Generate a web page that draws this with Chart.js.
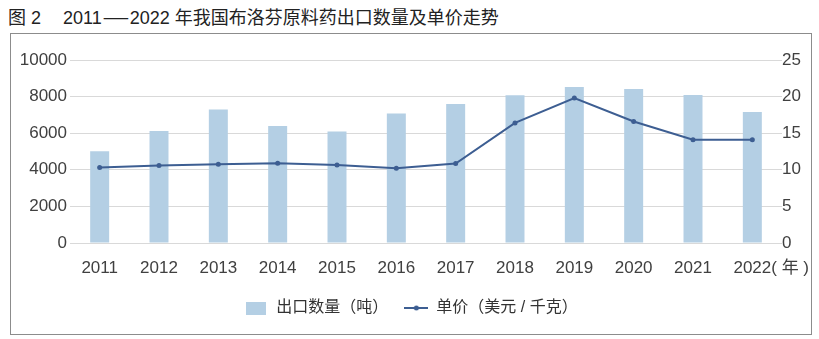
<!DOCTYPE html>
<html>
<head>
<meta charset="utf-8">
<script src="https://cdn.jsdelivr.net/npm/chart.js@4.4.1/dist/chart.umd.min.js"></script>
<style>
  body { margin: 0; background: #fff; width: 819px; height: 339px; position: relative; overflow: hidden;
         font-family: "Liberation Sans", "Noto Sans CJK SC", sans-serif; }
  #title { position: absolute; left: 8px; top: 3px; font-size: 18px; color: #222; white-space: pre; }
  #title .dash { display: inline-block; font-family: "Noto Sans CJK SC"; transform: scaleX(1.7); margin: 0 6px; }
  #box { position: absolute; left: 10px; top: 33px; width: 800px; height: 300px; border: 1px solid #8c8c8c; }
</style>
</head>
<body>
<div id="title">图 2<span style="margin-left:22px">2011</span><span class="dash">—</span>2022 年我国布洛芬原料药出口数量及单价走势</div>
<div id="box"><canvas id="trendChart"></canvas></div>
<script>
var years = ["2011", "2012", "2013", "2014", "2015", "2016", "2017", "2018", "2019", "2020", "2021", "2022"];
var exportQty = [5020, 6120, 7300, 6390, 6090, 7070, 7600, 8070, 8520, 8420, 8090, 7160]; // 吨
var unitPrice = [10.3, 10.6, 10.75, 10.9, 10.65, 10.2, 10.85, 16.4, 19.8, 16.6, 14.1, 14.1]; // 美元/千克

var barColor = "#b4cfe4";
var lineColor = "#3d5e92";
var textColor = "#404040";
var fontStack = "'Liberation Sans', 'Noto Sans CJK SC', sans-serif";

Chart.defaults.font.family = fontStack;
Chart.defaults.color = textColor;

// little pictures for the legend
function legendBox() {
  var c = document.createElement("canvas");
  c.width = 20; c.height = 13;
  var g = c.getContext("2d");
  g.fillStyle = barColor;
  g.fillRect(0, 0, 20, 13);
  return c;
}
function legendLine() {
  var c = document.createElement("canvas");
  c.width = 24; c.height = 8;
  var g = c.getContext("2d");
  g.strokeStyle = lineColor;
  g.lineWidth = 2;
  g.beginPath(); g.moveTo(0, 4); g.lineTo(24, 4); g.stroke();
  g.fillStyle = lineColor;
  g.beginPath(); g.arc(12, 4, 2.5, 0, Math.PI * 2); g.fill();
  return c;
}

// "(年)" after the last year label
var yearUnit = {
  id: "yearUnit",
  afterDraw: function (chart) {
    var xs = chart.scales.x;
    var items = xs.getLabelItems();
    var last = items[items.length - 1];
    var ctx = chart.ctx;
    ctx.save();
    ctx.font = "17px " + fontStack;
    ctx.fillStyle = textColor;
    ctx.textBaseline = last.options.textBaseline || "middle";
    var x = last.options.translation[0] + ctx.measureText(years[years.length - 1]).width / 2;
    var y = last.options.translation[1] + (last.textOffset || 0);
    ctx.fillText("( 年 )", x, y);
    ctx.restore();
  }
};

var ctx = document.getElementById("trendChart").getContext("2d");
var trendChart = new Chart(ctx, {
  type: "bar",
  data: {
    labels: years,
    datasets: [
      {
        label: "出口数量（吨）",
        data: exportQty,
        backgroundColor: barColor,
        barPercentage: 0.32,
        categoryPercentage: 1.0,
        yAxisID: "y",
        order: 1,
      },
      {
        type: "line",
        label: "单价（美元 / 千克）",
        data: unitPrice,
        borderColor: lineColor,
        backgroundColor: lineColor,
        borderWidth: 2,
        pointRadius: 2.5,
        pointBackgroundColor: lineColor,
        pointBorderWidth: 0,
        tension: 0,
        yAxisID: "y1",
        order: 0,
      },
    ],
  },
  options: {
    responsive: true,
    maintainAspectRatio: false,
    animation: false,
    layout: {
      padding: { top: 26, left: 0, right: 0, bottom: 8 },
    },
    plugins: {
      tooltip: { enabled: false },
      legend: {
        display: true,
        position: "bottom",
        labels: {
          usePointStyle: true,
          pointStyleWidth: 24,
          padding: 16,
          color: "#333",
          font: { size: 16, family: fontStack },
          generateLabels: function (chart) {
            var ds = chart.data.datasets;
            return [
              { text: ds[0].label, pointStyle: legendBox(), fillStyle: barColor, strokeStyle: barColor, lineWidth: 0, datasetIndex: 0, fontColor: "#333" },
              { text: ds[1].label, pointStyle: legendLine(), fillStyle: lineColor, strokeStyle: lineColor, lineWidth: 0, datasetIndex: 1, fontColor: "#333" },
            ];
          },
        },
      },
    },
    scales: {
      x: {
        grid: { display: false },
        border: { display: false },
        ticks: { font: { size: 17 }, color: textColor, padding: 7, maxRotation: 0 },
        afterFit: function (scale) { scale.height = 41; },
      },
      y: {
        position: "left",
        min: 0,
        max: 10000,
        ticks: {
          stepSize: 2000, font: { size: 17 }, color: textColor, padding: 3,
          callback: function (v) { return String(v); },
        },
        grid: { color: "#d9d9d9", drawTicks: false },
        border: { display: false },
        afterFit: function (scale) { scale.width = 59; },
      },
      y1: {
        position: "right",
        min: 0,
        max: 25,
        ticks: { stepSize: 5, font: { size: 17 }, color: textColor, padding: 0 },
        grid: { drawOnChartArea: false, drawTicks: false },
        border: { display: false },
        afterFit: function (scale) { scale.width = 29; },
      },
    },
  },
  plugins: [yearUnit],
});
</script>
</body>
</html>
